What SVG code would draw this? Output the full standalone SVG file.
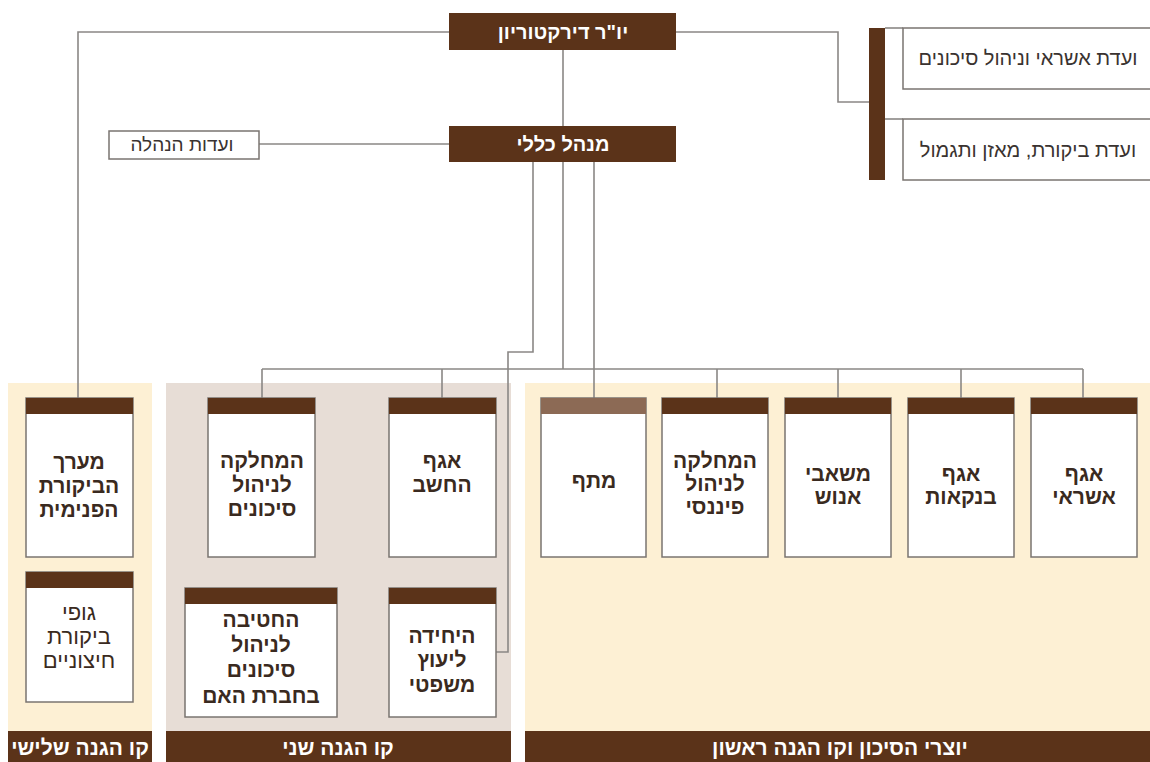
<svg xmlns="http://www.w3.org/2000/svg" width="1150" height="762" viewBox="0 0 1150 762">
<style>
.bg{fill:#ffffff}
.cream{fill:#fdf0d4}
.grey{fill:#e7ddd6}
.dark{fill:#5b3319}
.box{fill:#ffffff;stroke:#7a7470;stroke-width:1.5}
.hdr{fill:#5b3319}
.hdr2{fill:#8c6a55}
.ln{fill:none;stroke:#8a8785;stroke-width:1.6}
text{font-family:"Liberation Sans","DejaVu Sans",sans-serif;text-anchor:middle;direction:rtl}
.t{font-size:21px;font-weight:bold;fill:#3a2a20}
.tr{font-size:22px;fill:#3a2a20}
.w{font-size:20px;font-weight:bold;fill:#ffffff}
.wb{font-size:21px;font-weight:bold;fill:#ffffff}
.c{font-size:20px;fill:#3a3330}
.s{font-size:19px;fill:#3a3330}
</style>
<rect class="bg" x="0" y="0" width="1150" height="762"/>
<g id="panels">
<rect class="cream" x="8" y="383" width="144" height="348"/>
<rect class="grey" x="166" y="383" width="345" height="348"/>
<rect class="cream" x="525" y="383" width="625" height="348"/>
</g>
<g id="connectors">
<polyline class="ln" points="449,32 78,32 78,398"/>
<polyline class="ln" points="676,32 838,32 838,102 870,102"/>
<line class="ln" x1="563" y1="50" x2="563" y2="126"/>
<line class="ln" x1="259" y1="144" x2="449" y2="144"/>
<polyline class="ln" points="533,162 533,352 508,352 508,652 496,652"/>
<line class="ln" x1="563" y1="162" x2="563" y2="369"/>
<line class="ln" x1="594" y1="162" x2="594" y2="398"/>
<line class="ln" x1="262" y1="369" x2="1083" y2="369"/>
<line class="ln" x1="262" y1="369" x2="262" y2="398"/>
<line class="ln" x1="442" y1="369" x2="442" y2="398"/>
<line class="ln" x1="717" y1="369" x2="717" y2="398"/>
<line class="ln" x1="838" y1="369" x2="838" y2="398"/>
<line class="ln" x1="961" y1="369" x2="961" y2="398"/>
<line class="ln" x1="1083" y1="369" x2="1083" y2="398"/>
<line class="ln" x1="885" y1="28" x2="903" y2="28"/>
<line class="ln" x1="885" y1="119" x2="903" y2="119"/>
</g>
<g id="chairman">
<rect class="dark" x="449" y="13" width="227" height="37"/>
<text class="w" x="563" y="39">יו"ר דירקטוריון</text>
</g>
<g id="ceo">
<rect class="dark" x="449" y="126" width="227" height="36"/>
<text class="w" x="563" y="151">מנהל כללי</text>
</g>
<g id="mgmt-committees">
<rect class="box" x="109" y="131" width="150" height="28"/>
<text class="s" x="182" y="151">ועדות הנהלה</text>
</g>
<g id="board-bar">
<rect class="dark" x="869" y="28" width="16" height="152"/>
</g>
<g id="credit-committee">
<rect class="box" x="903" y="28" width="250" height="61"/>
<text class="c" x="1028" y="65">ועדת אשראי וניהול סיכונים</text>
</g>
<g id="audit-committee">
<rect class="box" x="903" y="119" width="250" height="61"/>
<text class="c" x="1028" y="157">ועדת ביקורת, מאזן ותגמול</text>
</g>
<g id="internal-audit">
<rect class="box" x="26" y="398" width="107" height="159"/>
<rect class="hdr" x="26" y="398" width="107" height="16"/>
<text class="t" x="79" y="469">מערך</text>
<text class="t" x="79" y="493">הביקורת</text>
<text class="t" x="79" y="517">הפנימית</text>
</g>
<g id="external-audit">
<rect class="box" x="26" y="572" width="107" height="130"/>
<rect class="hdr" x="26" y="572" width="107" height="16"/>
<text class="tr" x="79" y="620">גופי</text>
<text class="tr" x="79" y="644">ביקורת</text>
<text class="tr" x="79" y="668">חיצוניים</text>
</g>
<g id="risk-dept">
<rect class="box" x="208" y="398" width="107" height="159"/>
<rect class="hdr" x="208" y="398" width="107" height="16"/>
<text class="t" x="262" y="468">המחלקה</text>
<text class="t" x="262" y="492">לניהול</text>
<text class="t" x="262" y="516">סיכונים</text>
</g>
<g id="comptroller">
<rect class="box" x="389" y="398" width="107" height="159"/>
<rect class="hdr" x="389" y="398" width="107" height="16"/>
<text class="t" x="442" y="468">אגף</text>
<text class="t" x="442" y="492">החשב</text>
</g>
<g id="parent-risk">
<rect class="box" x="185" y="588" width="152" height="129"/>
<rect class="hdr" x="185" y="588" width="152" height="16"/>
<text class="t" x="261" y="627">החטיבה</text>
<text class="t" x="261" y="652">לניהול</text>
<text class="t" x="261" y="677">סיכונים</text>
<text class="t" x="261" y="703">בחברת האם</text>
</g>
<g id="legal">
<rect class="box" x="389" y="588" width="107" height="129"/>
<rect class="hdr" x="389" y="588" width="107" height="16"/>
<text class="t" x="442" y="643">היחידה</text>
<text class="t" x="442" y="667">ליעוץ</text>
<text class="t" x="442" y="692">משפטי</text>
</g>
<g id="matap">
<rect class="box" x="541" y="398" width="105" height="159"/>
<rect class="hdr2" x="541" y="398" width="105" height="16"/>
<text class="t" x="594" y="488">מתף</text>
</g>
<g id="finance">
<rect class="box" x="662" y="398" width="106" height="159"/>
<rect class="hdr" x="662" y="398" width="106" height="16"/>
<text class="t" x="715" y="468">המחלקה</text>
<text class="t" x="715" y="491">לניהול</text>
<text class="t" x="715" y="514">פיננסי</text>
</g>
<g id="hr">
<rect class="box" x="785" y="398" width="106" height="159"/>
<rect class="hdr" x="785" y="398" width="106" height="16"/>
<text class="t" x="838" y="481">משאבי</text>
<text class="t" x="838" y="504">אנוש</text>
</g>
<g id="banking">
<rect class="box" x="908" y="398" width="106" height="159"/>
<rect class="hdr" x="908" y="398" width="106" height="16"/>
<text class="t" x="961" y="481">אגף</text>
<text class="t" x="961" y="504">בנקאות</text>
</g>
<g id="credit">
<rect class="box" x="1031" y="398" width="106" height="159"/>
<rect class="hdr" x="1031" y="398" width="106" height="16"/>
<text class="t" x="1084" y="481">אגף</text>
<text class="t" x="1084" y="504">אשראי</text>
</g>
<g id="line-labels">
<rect class="dark" x="8" y="731" width="144" height="31"/>
<text class="wb" x="80" y="755">קו הגנה שלישי</text>
<rect class="dark" x="166" y="731" width="345" height="31"/>
<text class="wb" x="338" y="755">קו הגנה שני</text>
<rect class="dark" x="525" y="731" width="625" height="31"/>
<text class="wb" x="840" y="755">יוצרי הסיכון וקו הגנה ראשון</text>
</g>
</svg>
